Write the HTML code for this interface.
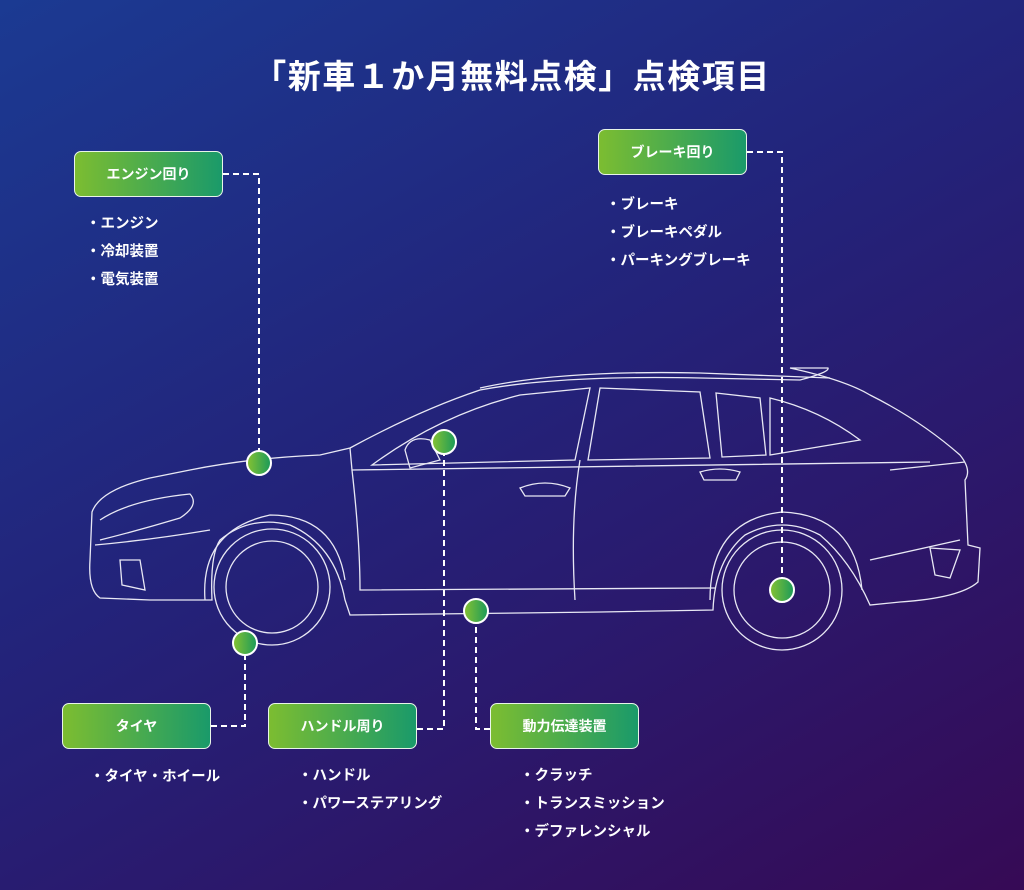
<!DOCTYPE html>
<html><head><meta charset="utf-8"><style>
body{margin:0;width:1024px;height:890px;overflow:hidden;background:linear-gradient(150deg,#1b3a92 0%,#23237a 45%,#2a1a6e 65%,#360a55 100%);font-family:"Liberation Sans","Noto Sans CJK JP",sans-serif;color:#fff;position:relative}
.t{position:absolute;left:0;width:1024px;top:50px;text-align:center;font-size:33px;font-weight:bold;letter-spacing:1.5px}
.b{position:absolute;width:149px;height:46px;border:1.5px solid #e8f5e8;border-radius:7px;background:linear-gradient(90deg,#7cbd31,#1a9a6a);box-sizing:border-box;text-align:center;line-height:44px;font-size:14px;font-weight:bold}
.l{position:absolute;font-size:14.5px;font-weight:bold;line-height:28px}
svg{position:absolute;left:0;top:0}
</style></head><body>
<div class="t">「新車１か月無料点検」点検項目</div>
<svg width="1024" height="890" viewBox="0 0 1024 890">
<defs><linearGradient id="g" x1="0" x2="1"><stop offset="0" stop-color="#86c232"/><stop offset="1" stop-color="#1a9a5a"/></linearGradient></defs>
<g fill="none" stroke="#e8e8f4" stroke-width="1.3">
<path d="M92,512 Q100,490 150,478 L190,470 Q250,458 320,455 L350,448 Q420,410 480,390 Q560,375 700,378 L800,380 Q830,372 828,368 L790,368 Q845,380 870,395 Q920,420 960,455 Q972,470 965,480 L968,545 L980,548 L978,582 Q960,598 900,602 L870,605 Q850,560 820,535 Q782,515 745,535 Q715,560 713,610 L600,612 L350,615 L345,600 Q335,545 290,525 Q250,515 220,540 Q210,555 212,600 L150,600 L100,598 Q88,590 90,560 Z"/>
<path d="M350,448 L352,470 L930,462"/>
<path d="M372,465 Q440,415 520,395 L590,388 L575,460 Z"/>
<path d="M600,388 L700,392 L710,458 L588,460 Z"/>
<path d="M716,393 L760,398 L766,455 L722,457 Z"/>
<path d="M770,398 Q820,410 860,440 L770,455 Z"/>
<path d="M352,470 Q360,540 360,590 L715,588"/>
<path d="M580,460 Q570,520 575,600"/>
<path d="M480,388 Q560,370 700,373 L830,378"/>
<path d="M100,520 Q130,500 190,494 Q200,505 180,518 Q140,530 100,540"/>
<path d="M95,545 Q150,540 210,530"/>
<path d="M120,560 L140,560 L145,590 L122,585 Z"/>
<path d="M930,548 L960,550 L950,578 L935,575 Z"/>
<path d="M890,470 L965,462"/>
<path d="M870,560 L960,540"/>
<path d="M520,488 Q545,478 570,488 L565,496 L525,496 Z"/>
<path d="M700,472 Q720,466 740,472 L736,480 L704,480 Z"/>
<path d="M405,450 Q410,435 430,440 L440,460 L410,468 Z"/>
<circle cx="272" cy="587" r="46"/>
<circle cx="272" cy="587" r="58"/>
<path d="M205,600 Q200,530 270,515 Q335,515 345,580"/>
<circle cx="782" cy="590" r="48"/>
<circle cx="782" cy="590" r="60"/>
<path d="M710,600 Q710,520 782,512 Q855,515 862,590"/>
</g>
<g fill="none" stroke="#fff" stroke-width="2" stroke-dasharray="6,4">
<path d="M223,174 H259 V452"/>
<path d="M747,152 H782 V578"/>
<path d="M211,726 H245 V655"/>
<path d="M417,729 H444 V454"/>
<path d="M490,729 H476 V623"/>
</g>
<g fill="url(#g)" stroke="#fff" stroke-width="2">
<circle cx="259" cy="463" r="12"/>
<circle cx="782" cy="590" r="12"/>
<circle cx="245" cy="643" r="12"/>
<circle cx="444" cy="442" r="12"/>
<circle cx="476" cy="611" r="12"/>
</g>
</svg>
<div class="b" style="left:74px;top:151px">エンジン回り</div>
<div class="b" style="left:598px;top:129px">ブレーキ回り</div>
<div class="b" style="left:62px;top:703px">タイヤ</div>
<div class="b" style="left:268px;top:703px">ハンドル周り</div>
<div class="b" style="left:490px;top:703px">動力伝達装置</div>
<div class="l" style="left:86px;top:210px">・エンジン<br>・冷却装置<br>・電気装置</div>
<div class="l" style="left:606px;top:191px">・ブレーキ<br>・ブレーキペダル<br>・パーキングブレーキ</div>
<div class="l" style="left:90px;top:763px">・タイヤ・ホイール</div>
<div class="l" style="left:298px;top:762px">・ハンドル<br>・パワーステアリング</div>
<div class="l" style="left:520px;top:762px">・クラッチ<br>・トランスミッション<br>・デファレンシャル</div>
</body></html>
